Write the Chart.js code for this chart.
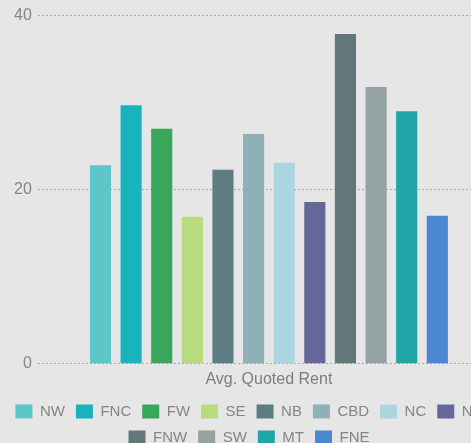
<!DOCTYPE html>
<html>
<head>
<meta charset="utf-8">
<script src="https://cdn.jsdelivr.net/npm/chart.js@4"></script>
<style>
  html, body { margin: 0; padding: 0; background: #e6e6e6; overflow: hidden; }
  #wrap { position: relative; width: 500px; height: 455px; }
</style>
</head>
<body>
<div id="wrap"><canvas id="chart"></canvas></div>
<script>
// Average quoted rent by submarket
const categories = ['Avg. Quoted Rent'];
const submarkets = ['NW', 'FNC', 'FW', 'SE', 'NB', 'CBD', 'NC', 'NE', 'FNW', 'SW', 'MT', 'FNE'];
const rents = [22.8, 29.7, 27.0, 16.9, 22.3, 26.4, 23.1, 18.6, 37.9, 31.8, 29.0, 17.0];
const yTicks = [0, 20, 40];

const palette = ['#5cc6c9', '#19b3bd', '#38a75a', '#b8db80', '#5d7d83', '#8fb0b6',
                 '#acd6df', '#65679b', '#637679', '#94a2a3', '#21a6a7', '#4a88cf'];

const datasets = submarkets.map((name, i) => ({
  label: name,
  data: [rents[i]],
  backgroundColor: palette[i],
  borderWidth: 0
}));

// Nudge the legend block a little to the left of the plot's centre line
const legendShift = {
  id: 'legendShift',
  afterLayout(chart) {
    const lg = chart.legend;
    if (lg) { lg.left -= 5; lg.right -= 5; }
  }
};

const font = 'Liberation Sans, Arial, sans-serif';

new Chart(document.getElementById('chart'), {
  type: 'bar',
  data: { labels: categories, datasets },
  plugins: [legendShift],
  options: {
    responsive: true,
    maintainAspectRatio: false,
    animation: false,
    layout: { padding: { top: 9, left: 8, right: 0, bottom: 0 } },
    datasets: { bar: { categoryPercentage: 0.795, barPercentage: 0.69 } },
    scales: {
      x: {
        grid: { display: false, drawTicks: false },
        border: { display: false },
        ticks: { color: '#7d7d7d', font: { family: font, size: 16 }, padding: 6 },
        afterFit: (axis) => { axis.height -= 2; }
      },
      y: {
        min: 0,
        max: 40,
        afterBuildTicks: (axis) => { axis.ticks = yTicks.map(v => ({ value: v })); },
        grid: { color: '#a9a9a9', lineWidth: 1, drawTicks: false },
        border: { display: false, dash: [2, 2] },
        ticks: { color: '#858585', font: { family: font, size: 16 }, padding: 6 }
      }
    },
    plugins: {
      tooltip: { enabled: false },
      legend: {
        position: 'bottom',
        labels: {
          color: '#858585',
          font: { family: font, size: 15 },
          boxWidth: 17,
          boxHeight: 14,
          padding: 11
        }
      }
    }
  }
});
</script>
</body>
</html>
